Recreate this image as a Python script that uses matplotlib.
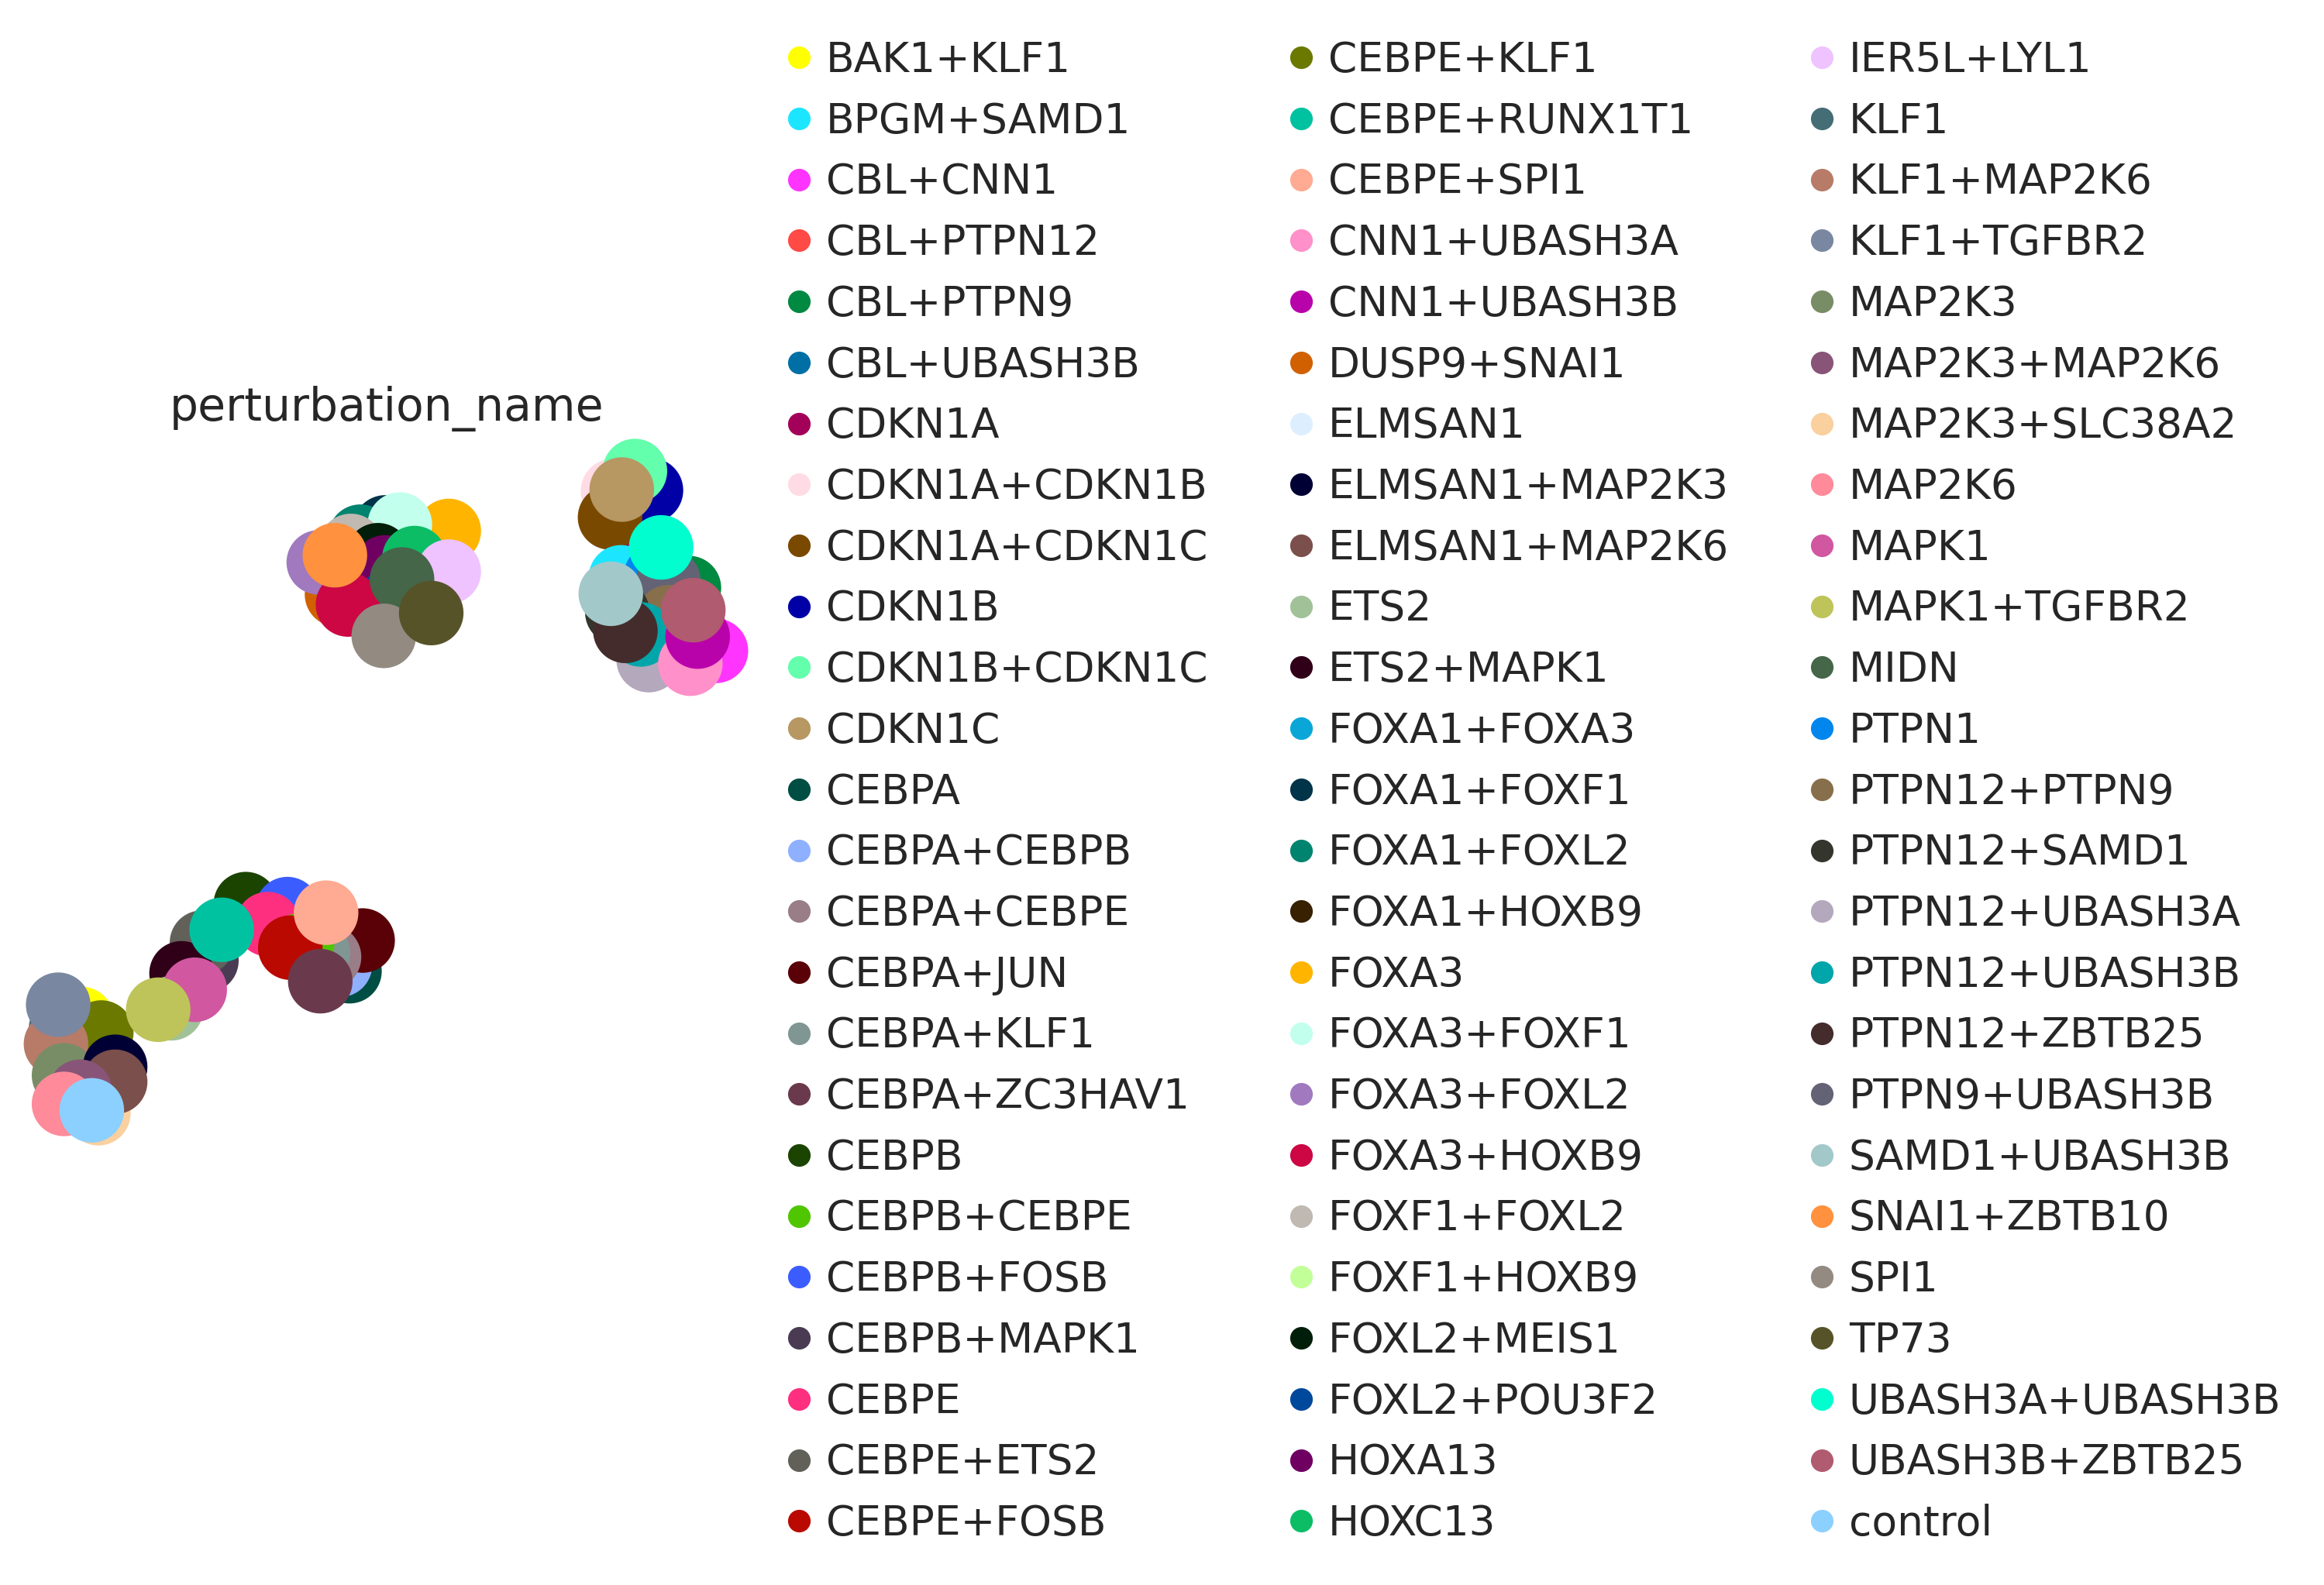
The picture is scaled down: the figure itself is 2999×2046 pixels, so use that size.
import matplotlib
matplotlib.use("Agg")
import matplotlib.pyplot as plt
from matplotlib.lines import Line2D

# ---- data -------------------------------------------------------------
categories = [
    "BAK1+KLF1", "BPGM+SAMD1", "CBL+CNN1", "CBL+PTPN12", "CBL+PTPN9",
    "CBL+UBASH3B", "CDKN1A", "CDKN1A+CDKN1B", "CDKN1A+CDKN1C", "CDKN1B",
    "CDKN1B+CDKN1C", "CDKN1C", "CEBPA", "CEBPA+CEBPB", "CEBPA+CEBPE",
    "CEBPA+JUN", "CEBPA+KLF1", "CEBPA+ZC3HAV1", "CEBPB", "CEBPB+CEBPE",
    "CEBPB+FOSB", "CEBPB+MAPK1", "CEBPE", "CEBPE+ETS2", "CEBPE+FOSB",
    "CEBPE+KLF1", "CEBPE+RUNX1T1", "CEBPE+SPI1", "CNN1+UBASH3A", "CNN1+UBASH3B",
    "DUSP9+SNAI1", "ELMSAN1", "ELMSAN1+MAP2K3", "ELMSAN1+MAP2K6", "ETS2",
    "ETS2+MAPK1", "FOXA1+FOXA3", "FOXA1+FOXF1", "FOXA1+FOXL2", "FOXA1+HOXB9",
    "FOXA3", "FOXA3+FOXF1", "FOXA3+FOXL2", "FOXA3+HOXB9", "FOXF1+FOXL2",
    "FOXF1+HOXB9", "FOXL2+MEIS1", "FOXL2+POU3F2", "HOXA13", "HOXC13",
    "IER5L+LYL1", "KLF1", "KLF1+MAP2K6", "KLF1+TGFBR2", "MAP2K3",
    "MAP2K3+MAP2K6", "MAP2K3+SLC38A2", "MAP2K6", "MAPK1", "MAPK1+TGFBR2",
    "MIDN", "PTPN1", "PTPN12+PTPN9", "PTPN12+SAMD1", "PTPN12+UBASH3A",
    "PTPN12+UBASH3B", "PTPN12+ZBTB25", "PTPN9+UBASH3B", "SAMD1+UBASH3B", "SNAI1+ZBTB10",
    "SPI1", "TP73", "UBASH3A+UBASH3B", "UBASH3B+ZBTB25", "control",
]

colors = [
    "#FFFF00", "#1CE6FF", "#FF34FF", "#FF4A46", "#008941",
    "#006FA6", "#A30059", "#FFDBE5", "#7A4900", "#0000A6",
    "#63FFAC", "#B79762", "#004D43", "#8FB0FF", "#997D87",
    "#5A0007", "#809693", "#6A3A4C", "#1B4400", "#4FC601",
    "#3B5DFF", "#4A3B53", "#FF2F80", "#61615A", "#BA0900",
    "#6B7900", "#00C2A0", "#FFAA92", "#FF90C9", "#B903AA",
    "#D16100", "#DDEFFF", "#000035", "#7B4F4B", "#A1C299",
    "#300018", "#0AA6D8", "#013349", "#00846F", "#372101",
    "#FFB500", "#C2FFED", "#A079BF", "#CC0744", "#C0B9B2",
    "#C2FF99", "#001E09", "#00489C", "#6F0062", "#0CBD66",
    "#EEC3FF", "#456D75", "#B77B68", "#7A87A1", "#788D66",
    "#885578", "#FAD09F", "#FF8A9A", "#D157A0", "#BEC459",
    "#456648", "#0086ED", "#886F4C", "#34362D", "#B4A8BD",
    "#00A6AA", "#452C2C", "#636375", "#A3C8C9", "#FF913F",
    "#938A81", "#575329", "#00FECF", "#B05B6F", "#8CD0FF",
]

umap1 = [
    0.82, 8.21, 9.51, 8.83, 9.14,
    8.62, 8.51, 8.10, 8.06, 8.62,
    8.40, 8.22, 4.49, 4.36, 4.21,
    4.67, 4.06, 4.09, 3.07, 3.84,
    3.64, 2.53, 3.37, 2.47, 3.68,
    1.09, 2.74, 4.17, 9.16, 9.26,
    4.32, 0.92, 1.28, 1.28, 2.05,
    2.19, 5.30, 4.98, 4.64, 4.96,
    5.85, 5.18, 4.07, 4.47, 4.51,
    5.01, 4.88, 4.98, 4.98, 5.38,
    5.85, 0.54, 0.47, 0.50, 0.58,
    0.80, 1.05, 0.58, 2.37, 1.87,
    5.21, 8.69, 8.86, 8.16, 8.59,
    8.48, 8.27, 8.86, 8.07, 4.29,
    4.96, 5.61, 8.76, 9.20, 0.96,
]

umap2 = [
    1.82, 8.01, 6.98, 7.74, 7.86,
    7.63, 8.50, 9.22, 8.85, 9.23,
    9.50, 9.24, 2.49, 2.58, 2.69,
    2.92, 2.75, 2.35, 3.43, 2.86,
    3.36, 2.64, 3.15, 2.89, 2.82,
    1.63, 3.07, 3.31, 6.80, 7.18,
    7.77, 1.39, 1.15, 0.94, 1.97,
    2.46, 8.60, 8.71, 8.58, 8.07,
    8.66, 8.75, 8.22, 7.63, 8.45,
    7.85, 8.32, 7.63, 8.15, 8.28,
    8.09, 1.69, 1.47, 2.02, 1.03,
    0.80, 0.50, 0.63, 2.23, 1.95,
    7.98, 8.03, 7.45, 7.52, 6.85,
    7.21, 7.26, 7.96, 7.78, 8.32,
    7.19, 7.51, 8.43, 7.55, 0.54,
]

# drawing order (first = bottom)
plot_order = [
    # upper-left group
    "FOXA1+HOXB9", "FOXF1+HOXB9", "FOXA1+FOXF1", "FOXA1+FOXA3", "FOXA3",
    "FOXA1+FOXL2", "FOXA3+FOXF1", "FOXF1+FOXL2", "DUSP9+SNAI1", "FOXA3+FOXL2",
    "FOXL2+MEIS1", "HOXA13", "FOXL2+POU3F2", "FOXA3+HOXB9", "SNAI1+ZBTB10",
    "HOXC13", "IER5L+LYL1", "MIDN", "SPI1", "TP73",
    # upper-right group
    "CBL+PTPN12", "CBL+UBASH3B", "CDKN1A", "CDKN1A+CDKN1B", "CDKN1B",
    "CDKN1B+CDKN1C", "CDKN1A+CDKN1C", "CDKN1C", "BPGM+SAMD1", "PTPN1",
    "CBL+PTPN9", "PTPN9+UBASH3B", "PTPN12+PTPN9", "UBASH3A+UBASH3B", "PTPN12+SAMD1",
    "PTPN12+UBASH3A", "PTPN12+UBASH3B", "PTPN12+ZBTB25", "SAMD1+UBASH3B", "CBL+CNN1",
    "CNN1+UBASH3A", "CNN1+UBASH3B", "UBASH3B+ZBTB25",
    # lower group
    "ELMSAN1", "BAK1+KLF1", "KLF1", "CEBPE+KLF1", "KLF1+MAP2K6",
    "KLF1+TGFBR2", "MAP2K3", "ELMSAN1+MAP2K3", "MAP2K3+SLC38A2", "ELMSAN1+MAP2K6",
    "MAP2K3+MAP2K6", "MAP2K6", "control",
    "CEBPB+MAPK1", "CEBPE+ETS2", "ETS2+MAPK1", "ETS2", "MAPK1",
    "MAPK1+TGFBR2", "CEBPB", "CEBPB+FOSB", "CEBPE", "CEBPE+RUNX1T1",
    "CEBPA", "CEBPA+CEBPB", "CEBPA+JUN", "CEBPA+CEBPE", "CEBPA+KLF1",
    "CEBPB+CEBPE", "CEBPE+FOSB", "CEBPE+SPI1", "CEBPA+ZC3HAV1",
]

# ---- figure -----------------------------------------------------------
plt.rcParams["font.family"] = ["DejaVu Sans"]
TEXT = "#262626"

W, H, DPI = 2999, 2046, 300
fig = plt.figure(figsize=(W / DPI, H / DPI), dpi=DPI)
ax = fig.add_axes([28 / W, (H - 1483) / H, 942 / W, 921 / H])

idx = {c: i for i, c in enumerate(categories)}
for name in plot_order:
    i = idx[name]
    ax.scatter([umap1[i]], [umap2[i]], s=400, c=colors[i], linewidths=0,
               edgecolors="none", zorder=2)

ax.set_xlim(0, 10)
ax.set_ylim(0, 10)
ax.set_xticks([])
ax.set_yticks([])
for sp in ax.spines.values():
    sp.set_visible(False)
ax.patch.set_visible(False)
ax.set_title("perturbation_name", fontsize=14, color=TEXT, pad=4.5)

handles = [Line2D([], [], linestyle="none", marker="o", markersize=7,
                  markerfacecolor=col, markeredgewidth=0, label=cat)
           for cat, col in zip(categories, colors)]
leg = ax.legend(handles=handles, loc="center left", bbox_to_anchor=(1, 0.5),
                ncol=3, frameon=False, fontsize=12.82, handlelength=0.5,
                handletextpad=0.4, columnspacing=2.0, labelspacing=0.5,
                borderaxespad=0.5)
for t in leg.get_texts():
    t.set_color(TEXT)

fig.savefig("out.png", dpi=DPI)
